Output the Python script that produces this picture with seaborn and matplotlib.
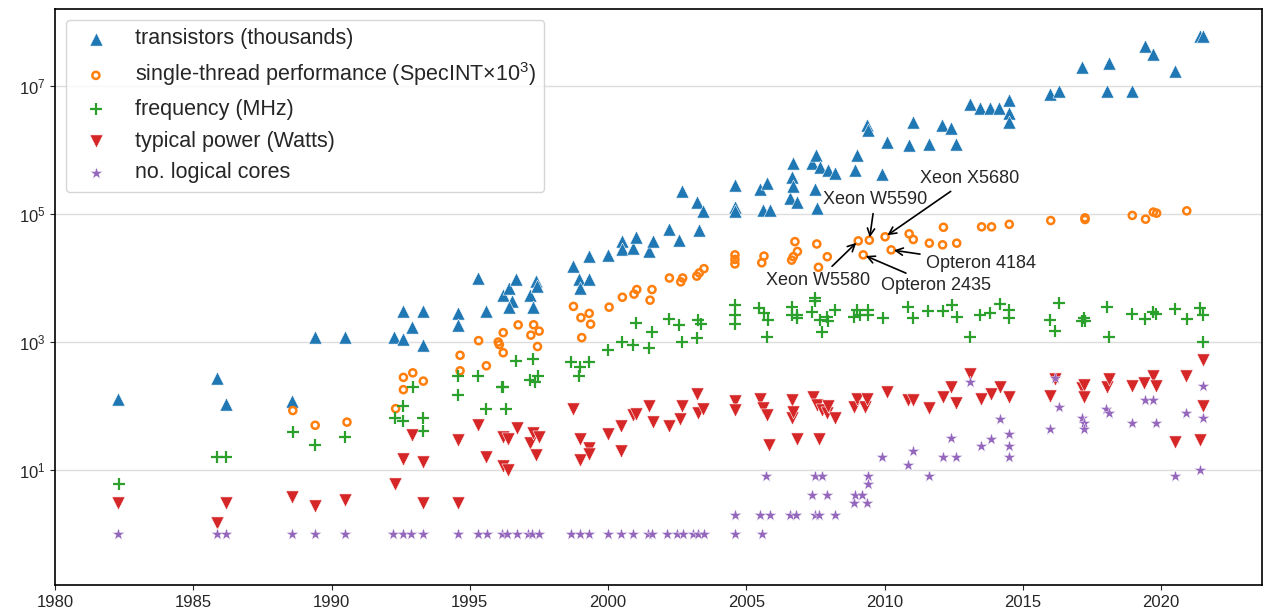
import numpy as np
import pandas as pd
import seaborn as sns
import matplotlib
matplotlib.use("Agg")
import matplotlib.pyplot as plt
from matplotlib.ticker import FixedLocator, NullLocator

# ---- data (year, value) ----
trans_year = [1982.29, 1985.87, 1986.19, 1988.57, 1989.40, 1990.49, 1992.27, 1992.57, 1992.57, 1992.91,
              1993.30, 1993.30, 1994.59, 1994.59, 1995.29, 1995.58, 1996.22, 1996.43, 1996.53, 1996.43,
              1996.67, 1997.19, 1997.29, 1997.40, 1997.44, 1998.72, 1998.94, 1999.00, 1999.30, 1999.30,
              2000.01, 2000.49, 2000.49, 2000.91, 2001.01, 2001.49, 2001.64, 2002.21, 2002.58, 2002.69,
              2003.21, 2003.30, 2003.45, 2004.59, 2004.59, 2004.59, 2005.50, 2005.59, 2005.74, 2005.86,
              2006.58, 2006.64, 2006.70, 2006.70, 2006.82, 2007.37, 2007.49, 2007.52, 2007.57, 2007.67,
              2007.97, 2008.21, 2008.93, 2009.02, 2009.38, 2009.41, 2009.92, 2010.10, 2010.87, 2011.02,
              2011.61, 2012.08, 2012.39, 2012.59, 2013.09, 2013.45, 2013.82, 2014.15, 2014.49, 2014.49,
              2014.51, 2015.99, 2016.32, 2017.14, 2018.03, 2018.13, 2018.94, 2019.42, 2019.72, 2020.51,
              2021.41, 2021.53]
trans_val = [130, 270, 108, 120, 1200, 1200, 1200, 3100, 1100, 1740,
             3100, 910, 2800, 1850, 10000, 3100, 5400, 6900, 4300, 3500,
             9500, 5400, 3500, 9100, 7500, 15500, 9500, 6900, 22000, 9500,
             23000, 38000, 28000, 29000, 44000, 26000, 38000, 58000, 39000, 230000,
             155000, 56000, 110000, 280000, 130000, 110000, 245000, 115000, 310000, 115000,
             176000, 380000, 620000, 270000, 155000, 620000, 250000, 830000, 123000, 535000,
             480000, 435000, 485000, 830000, 2460000, 2050000, 420000, 1350000, 1200000, 2770000,
             1260000, 2460000, 2200000, 1260000, 5200000, 4500000, 4500000, 4500000, 3800000, 2700000,
             6000000, 7500000, 8500000, 20000000, 8500000, 22500000, 8500000, 42000000, 32000000, 17000000,
             60000000, 60000000]

perf_year = [1988.60, 1989.41, 1990.56, 1992.32, 1992.60, 1992.60, 1992.94, 1993.32, 1994.65, 1994.65,
             1995.32, 1995.60, 1996.03, 1996.07, 1996.21, 1996.21, 1996.75, 1997.21, 1997.31, 1997.45,
             1997.51, 1998.75, 1999.02, 1999.05, 1999.32, 1999.37, 2000.04, 2000.52, 2000.94, 2001.04,
             2001.52, 2001.59, 2002.22, 2002.63, 2002.70, 2003.21, 2003.30, 2003.47, 2004.59, 2004.59,
             2004.59, 2005.56, 2005.64, 2006.64, 2006.70, 2006.76, 2006.85, 2007.55, 2007.61, 2007.93,
             2009.05, 2009.23, 2009.45, 2010.02, 2010.24, 2010.89, 2011.04, 2011.62, 2012.10, 2012.13,
             2012.61, 2013.51, 2013.87, 2014.51, 2016.01, 2017.25, 2017.25, 2018.96, 2019.44, 2019.72,
             2019.84, 2020.93]
perf_val = [85, 50, 56, 91, 280, 180, 330, 245, 620, 355,
            1050, 425, 1000, 910, 1400, 680, 1850, 1280, 1860, 850,
            1480, 3600, 2400, 1170, 2800, 1900, 3500, 5000, 5600, 6600,
            4500, 6600, 10000, 8700, 10000, 10700, 12000, 14000, 23000, 19500,
            16600, 17300, 22000, 19000, 21500, 37000, 26000, 34000, 14700, 21500,
            38000, 23000, 39000, 44000, 27500, 49000, 40000, 35000, 33000, 62000,
            35000, 63000, 63000, 69000, 79000, 87000, 82000, 95000, 83000, 107000,
            103000, 112000]

freq_year = [1982.30, 1985.87, 1986.19, 1988.60, 1989.40, 1990.49, 1992.30, 1992.60, 1992.60, 1992.94,
             1993.30, 1993.30, 1994.59, 1994.59, 1995.31, 1995.59, 1996.15, 1996.21, 1996.31, 1996.67,
             1997.18, 1997.30, 1997.37, 1997.48, 1998.66, 1998.96, 1998.99, 1999.30, 2000.01, 2000.49,
             2000.92, 2001.01, 2001.49, 2001.58, 2002.21, 2002.58, 2002.69, 2003.21, 2003.27, 2003.35,
             2004.59, 2004.59, 2004.59, 2005.47, 2005.64, 2005.74, 2005.80, 2006.64, 2006.64, 2006.82,
             2006.82, 2007.37, 2007.49, 2007.49, 2007.65, 2007.73, 2007.91, 2007.97, 2008.21, 2008.90,
             2009.00, 2009.12, 2009.42, 2009.42, 2009.94, 2010.86, 2011.04, 2011.58, 2012.10, 2012.43,
             2012.61, 2013.09, 2013.45, 2013.82, 2014.18, 2014.51, 2014.51, 2015.99, 2016.17, 2016.32,
             2017.13, 2017.22, 2017.25, 2018.06, 2018.13, 2018.94, 2019.42, 2019.72, 2019.82, 2020.52,
             2020.93, 2021.41, 2021.51, 2021.51]
freq_val = [6, 16, 16, 39, 25, 33, 66, 100, 59, 195,
            66, 40, 290, 150, 295, 89, 195, 195, 89, 500,
            255, 540, 240, 295, 490, 290, 400, 490, 750, 1000,
            910, 2000, 800, 1450, 2250, 1850, 1000, 1170, 2200, 1900,
            3800, 2600, 1900, 3400, 2800, 1200, 2200, 3500, 2650, 2650,
            2330, 2950, 4800, 4300, 2200, 1450, 2500, 2100, 3150, 2500,
            3200, 2650, 3200, 2650, 2330, 3500, 2330, 3100, 3100, 3800,
            2500, 1200, 2650, 2800, 3900, 3150, 2330, 2200, 1500, 4000,
            2140, 2330, 2140, 3500, 1200, 2750, 2260, 2900, 2750, 3240,
            2260, 3400, 2650, 1000]

power_year = [1982.29, 1985.87, 1986.19, 1988.57, 1989.40, 1990.49, 1992.30, 1992.57, 1992.90, 1993.30,
              1993.30, 1994.59, 1994.59, 1995.29, 1995.58, 1996.22, 1996.40, 1996.21, 1996.40, 1996.72,
              1997.18, 1997.27, 1997.40, 1997.51, 1998.72, 1998.99, 1999.00, 1999.30, 1999.30, 2000.01,
              2000.47, 2000.47, 2000.89, 2001.01, 2001.48, 2001.61, 2002.21, 2002.60, 2002.66, 2003.21,
              2003.27, 2003.45, 2004.59, 2004.59, 2005.50, 2005.62, 2005.74, 2005.82, 2006.64, 2006.64,
              2006.70, 2006.82, 2007.40, 2007.57, 2007.63, 2007.73, 2007.91, 2007.97, 2008.21, 2008.90,
              2009.02, 2009.30, 2009.38, 2010.10, 2010.86, 2011.02, 2011.61, 2012.10, 2012.39, 2012.59,
              2013.09, 2013.49, 2013.84, 2014.18, 2014.49, 2015.99, 2016.17, 2017.13, 2017.22, 2017.22,
              2018.03, 2018.13, 2018.94, 2019.38, 2019.72, 2019.82, 2020.52, 2020.91, 2021.41, 2021.51,
              2021.51]
power_val = [3, 1.5, 3, 3.8, 2.7, 3.4, 6, 15, 35, 13.5,
             3, 29, 3, 50, 16, 33, 31, 11.5, 10, 45,
             26, 38, 17, 33, 91, 14.5, 30, 22, 18, 37,
             49, 20, 72, 74, 100, 57, 49, 62, 100, 155,
             78, 89, 118, 87, 130, 92, 72, 24.5, 125, 66,
             81, 31, 137, 105, 31, 87, 79, 100, 66, 98,
             130, 98, 130, 165, 125, 125, 94, 137, 200, 112,
             316, 128, 155, 200, 137, 145, 260, 190, 215, 140,
             195, 260, 205, 225, 295, 205, 27.5, 295, 29.5, 525,
             100]

cores_year = [1982.29, 1985.87, 1986.19, 1988.57, 1989.40, 1990.49, 1992.24, 1992.57, 1992.88, 1993.30,
              1994.59, 1995.29, 1995.61, 1996.15, 1996.34, 1996.70, 1997.10, 1997.24, 1997.52, 1998.66,
              1998.99, 1999.32, 2000.01, 2000.47, 2000.89, 2001.46, 2001.60, 2002.14, 2002.51, 2002.72,
              2003.08, 2003.27, 2003.47, 2004.59, 2004.59, 2005.50, 2005.56, 2005.71, 2005.84, 2006.58,
              2006.80, 2007.39, 2007.49, 2007.49, 2007.64, 2007.73, 2007.91, 2008.21, 2008.90, 2008.93,
              2009.17, 2009.35, 2009.42, 2009.42, 2009.92, 2010.86, 2011.02, 2011.61, 2012.10, 2012.39,
              2012.59, 2013.09, 2013.49, 2013.84, 2014.18, 2014.49, 2014.49, 2014.49, 2015.99, 2016.17,
              2016.32, 2017.13, 2017.22, 2017.22, 2018.01, 2018.13, 2018.94, 2019.42, 2019.72, 2019.82,
              2020.51, 2020.91, 2021.41, 2021.51, 2021.51]
cores_val = [1, 1, 1, 1, 1, 1, 1, 1, 1, 1,
             1, 1, 1, 1, 1, 1, 1, 1, 1, 1,
             1, 1, 1, 1, 1, 1, 1, 1, 1, 1,
             1, 1, 1, 2, 1, 2, 1, 8, 2, 2,
             2, 4, 2, 8, 2, 8, 4, 2, 3, 4,
             4, 3, 8, 6, 16, 12, 20, 8, 16, 32,
             16, 240, 24, 30, 63, 36, 24, 16, 44, 270,
             96, 66, 55, 44, 89, 79, 55, 126, 126, 55,
             8, 79, 10, 205, 64]

# annotated processors: (label, year of point, text x, text y)
annotations = [
    ("Xeon W5590", 2009.45, 2009.66, 1.71e5),
    ("Xeon X5680", 2010.02, 2013.09, 3.65e5),
    ("Xeon W5580", 2009.05, 2007.59, 9.3e3),
    ("Opteron 2435", 2009.23, 2011.86, 7.5e3),
    ("Opteron 4184", 2010.24, 2013.49, 1.71e4),
]

sns.set_style("ticks")
plt.rcParams["font.family"] = ["Liberation Sans", "DejaVu Sans"]
plt.rcParams["mathtext.fontset"] = "custom"
plt.rcParams["mathtext.rm"] = "Liberation Sans"
plt.rcParams["mathtext.it"] = "Liberation Sans:italic"

fig, ax = plt.subplots(figsize=(12.64, 6.16), dpi=100)
fig.subplots_adjust(left=0.0435, right=0.9984, top=0.9854, bottom=0.0503)

sns.scatterplot(x=trans_year, y=trans_val, marker="^", s=90, color="tab:blue",
                linewidth=0.4, label="transistors (thousands)", ax=ax, zorder=3)
sns.scatterplot(x=perf_year, y=perf_val, marker="o", s=26, facecolors="none",
                edgecolors="tab:orange", linewidth=1.8,
                label=r"single-thread performance (SpecINT$\times10^3$)", ax=ax, zorder=3)
sns.scatterplot(x=freq_year, y=freq_val, marker="+", s=70, color="tab:green", linewidth=1.6,
                label="frequency (MHz)", ax=ax, zorder=3)
sns.scatterplot(x=power_year, y=power_val, marker="v", s=90, color="tab:red",
                linewidth=0.4, label="typical power (Watts)", ax=ax, zorder=3)
sns.scatterplot(x=cores_year, y=cores_val, marker="*", s=85, color="tab:purple",
                linewidth=0.3, label="no. logical cores", ax=ax, zorder=3)

for name, yr, tx, ty in annotations:
    yv = perf_val[perf_year.index(yr)]
    ax.annotate(name, xy=(yr, yv), xytext=(tx, ty), ha="center", va="center",
                fontsize=13, arrowprops=dict(arrowstyle="->", color="black", lw=1.2),
                zorder=5)

ax.set_yscale("log")
ax.set_xlim(1980, 2023.65)
ax.set_ylim(10 ** -0.797, 10 ** 8.203)
ax.yaxis.set_major_locator(FixedLocator([1e1, 1e3, 1e5, 1e7]))
ax.yaxis.set_minor_locator(NullLocator())
ax.set_xticks(range(1980, 2021, 5))
ax.tick_params(labelsize=12)
ax.yaxis.grid(True, color="#dddddd", lw=1)
ax.set_axisbelow(True)
for sp in ax.spines.values():
    sp.set_color("black")
    sp.set_linewidth(1.2)

ax.legend(loc="upper left", fontsize=15.5)

plt.savefig("out.png", dpi=100)
